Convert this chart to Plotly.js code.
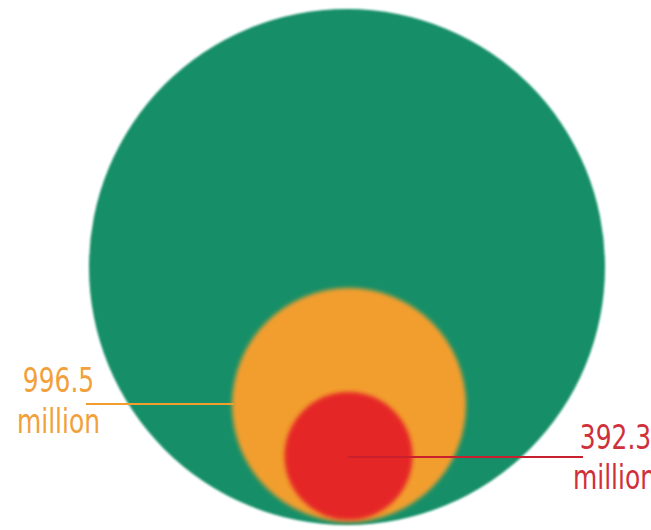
<!DOCTYPE html>
<html>
<head>
<meta charset="utf-8">
<script src="https://cdn.plot.ly/plotly-3.0.1.min.js"></script>
<style>
  html, body { margin: 0; padding: 0; background: #ffffff; }
  #chart { width: 651px; height: 530px; }
</style>
</head>
<body>
<div id="chart"></div>
<script>
// ---- data ----
const seriesNames = ['Total', 'Group A', 'Group B'];
const seriesValues = [null, 996.5, 392.3];      // millions (total not labelled)
const valueUnit = 'million';

// ---- geometry / style (kept separate from data) ----
const geom = {
  cx: [347, 349, 348.5],
  cy: [267, 405, 456],
  r:  [258, 117, 64]
};
const colors = ['#128f67', '#f29e2e', '#e52526'];
const labelColors = ['#128f67', '#f2a03a', '#d0303a'];

const shapes = [];
for (let i = 0; i < seriesNames.length; i++) {
  shapes.push({
    type: 'circle', xref: 'x', yref: 'y',
    x0: geom.cx[i] - geom.r[i], x1: geom.cx[i] + geom.r[i],
    y0: geom.cy[i] - geom.r[i], y1: geom.cy[i] + geom.r[i],
    fillcolor: colors[i], line: { width: 0 }, layer: 'below'
  });
}
// leader lines
shapes.push({ type: 'line', xref: 'x', yref: 'y', x0: 86, x1: geom.cx[1] - geom.r[1] + 2, y0: 404, y1: 404,
  line: { color: '#f29e2e', width: 2 } });
shapes.push({ type: 'line', xref: 'x', yref: 'y', x0: geom.cx[2], x1: 583, y0: 457, y1: 457,
  line: { color: '#c8202e', width: 2 } });

const fontFam = '"DejaVu Sans Condensed", sans-serif';
const annotations = [
  { x: 58, y: 393, text: String(seriesValues[1]), color: labelColors[1] },
  { x: 58, y: 434, text: valueUnit, color: labelColors[1] },
  { x: 615, y: 450, text: String(seriesValues[2]), color: labelColors[2] },
  { x: 614, y: 490, text: valueUnit, color: labelColors[2] }
].map(a => ({
  x: a.x, y: a.y, xref: 'x', yref: 'y', text: a.text, showarrow: false,
  xanchor: 'center', yanchor: 'bottom', yshift: -9,
  font: { family: fontFam, size: 33, color: a.color }
}));

const layout = {
  width: 651, height: 530,
  margin: { l: 0, r: 0, t: 0, b: 0, pad: 0 },
  paper_bgcolor: '#ffffff', plot_bgcolor: '#ffffff',
  xaxis: { range: [0, 651], visible: false, fixedrange: true },
  yaxis: { range: [530, 0], visible: false, fixedrange: true },
  shapes: shapes,
  annotations: annotations,
  showlegend: false
};

Plotly.newPlot('chart', [{ x: [], y: [], type: 'scatter', mode: 'markers', hoverinfo: 'skip' }], layout,
  { staticPlot: true, displayModeBar: false }).then(function (gd) {
  // soften circle edges like the reference
  const svg = gd.querySelector('svg.main-svg');
  const ns = 'http://www.w3.org/2000/svg';
  let defs = svg.querySelector('defs');
  if (!defs) { defs = document.createElementNS(ns, 'defs'); svg.insertBefore(defs, svg.firstChild); }
  const blurs = [0.8, 2.2, 2.2];
  blurs.forEach(function (s, i) {
    const f = document.createElementNS(ns, 'filter');
    f.setAttribute('id', 'softblur' + i);
    f.setAttribute('x', '-10%'); f.setAttribute('y', '-10%');
    f.setAttribute('width', '120%'); f.setAttribute('height', '120%');
    const g = document.createElementNS(ns, 'feGaussianBlur');
    g.setAttribute('stdDeviation', s);
    f.appendChild(g);
    defs.appendChild(f);
  });
  const paths = gd.querySelectorAll('.shapelayer path');
  for (let i = 0; i < 3 && i < paths.length; i++) {
    paths[i].setAttribute('filter', 'url(#softblur' + i + ')');
  }
  // condense label text horizontally to match the narrow reference typeface
  gd.querySelectorAll('.annotation-text').forEach(function (t) {
    const bb = t.getBBox();
    const cx = bb.x + bb.width / 2;
    const prev = t.getAttribute('transform') || '';
    t.setAttribute('transform', prev + ' translate(' + cx + ',0) scale(0.84,1) translate(' + (-cx) + ',0)');
  });
});
</script>
</body>
</html>
